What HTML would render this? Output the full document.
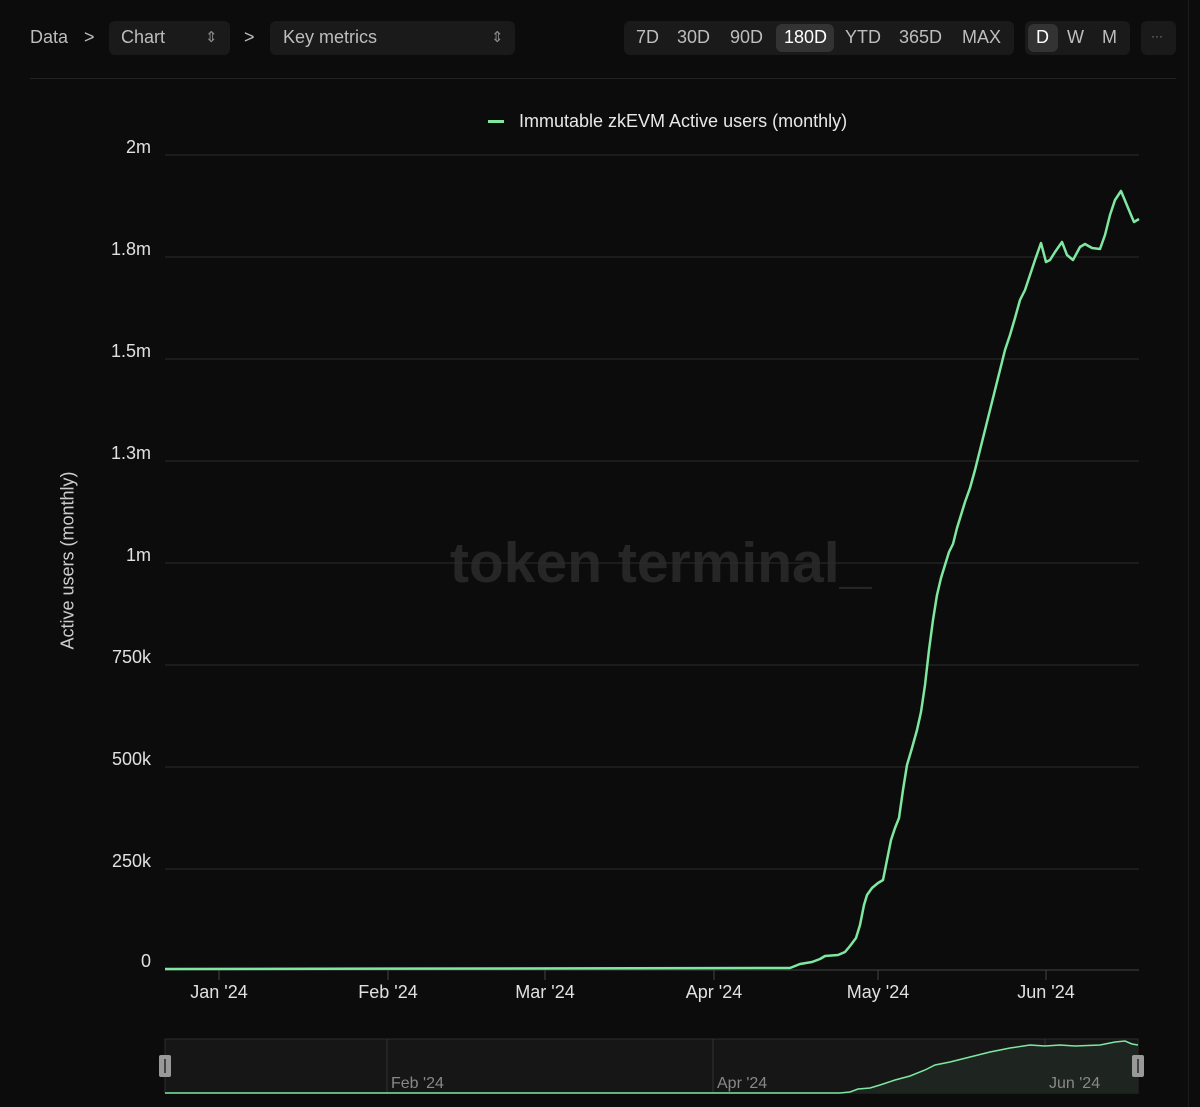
<!DOCTYPE html>
<html><head><style>
body{margin:0;background:#0c0c0d;width:1200px;height:1107px;overflow:hidden;font-family:"Liberation Sans",sans-serif;color:#ddd;position:relative}
.a{position:absolute}
.pill{background:#1a1a1b;border-radius:6px}
.t{font-size:18px;color:#bdbdbd}
</style></head><body>
<div class="a" style="left:0;top:0;width:1188px;height:1107px;border-right:1px solid #1c1c1c"></div>
<div class="a t" style="left:30px;top:27px">Data</div>
<div class="a t" style="left:84px;top:27px">&gt;</div>
<div class="a pill" style="left:109px;top:21px;width:121px;height:34px"></div>
<div class="a t" style="left:121px;top:27px">Chart</div>
<div class="a t" style="left:205px;top:28px;font-size:15px;color:#888">⇕</div>
<div class="a t" style="left:244px;top:27px">&gt;</div>
<div class="a pill" style="left:270px;top:21px;width:245px;height:34px"></div>
<div class="a t" style="left:283px;top:27px">Key metrics</div>
<div class="a t" style="left:491px;top:28px;font-size:15px;color:#888">⇕</div>
<div class="a pill" style="left:624px;top:21px;width:390px;height:34px"></div>
<div class="a pill" style="left:776px;top:24px;width:58px;height:28px;background:#333"></div>
<div class="a t" style="left:636px;top:27px">7D</div>
<div class="a t" style="left:677px;top:27px">30D</div>
<div class="a t" style="left:730px;top:27px">90D</div>
<div class="a t" style="left:784px;top:27px;color:#fff">180D</div>
<div class="a t" style="left:845px;top:27px">YTD</div>
<div class="a t" style="left:899px;top:27px">365D</div>
<div class="a t" style="left:962px;top:27px">MAX</div>
<div class="a pill" style="left:1025px;top:21px;width:105px;height:34px"></div>
<div class="a pill" style="left:1028px;top:24px;width:30px;height:28px;background:#333"></div>
<div class="a t" style="left:1036px;top:27px;color:#fff">D</div>
<div class="a t" style="left:1067px;top:27px">W</div>
<div class="a t" style="left:1102px;top:27px">M</div>
<div class="a pill" style="left:1141px;top:21px;width:35px;height:34px"></div>
<div class="a" style="left:1151px;top:29px;font-size:12px;color:#888">···</div>
<div class="a" style="left:30px;top:78px;width:1146px;height:1px;background:#222"></div>
<div class="a" style="left:488px;top:120px;width:16px;height:3px;background:#7ee8a0"></div>
<div class="a" style="left:519px;top:111px;font-size:18px;color:#e8e8e8">Immutable zkEVM Active users (monthly)</div>
<div class="a" style="left:450px;top:530px;font-size:57px;font-weight:bold;color:#262626">token terminal_</div>
<div class="a" style="left:-32px;top:550px;width:200px;text-align:center;transform:rotate(-90deg);font-size:18px;color:#ccc;white-space:nowrap">Active users (monthly)</div>
<svg class="a" style="left:0;top:0" width="1200" height="1107">
<g stroke="#2c2c2c" stroke-width="1">
<line x1="165" x2="1139" y1="155" y2="155"/><line x1="165" x2="1139" y1="257" y2="257"/><line x1="165" x2="1139" y1="359" y2="359"/><line x1="165" x2="1139" y1="461" y2="461"/><line x1="165" x2="1139" y1="563" y2="563"/><line x1="165" x2="1139" y1="665" y2="665"/><line x1="165" x2="1139" y1="767" y2="767"/><line x1="165" x2="1139" y1="869" y2="869"/>
</g>
<line x1="165" x2="1139" y1="970" y2="970" stroke="#444"/>
<g stroke="#444"><line x1="219" x2="219" y1="970" y2="980"/><line x1="388" x2="388" y1="970" y2="980"/><line x1="545" x2="545" y1="970" y2="980"/><line x1="714" x2="714" y1="970" y2="980"/><line x1="878" x2="878" y1="970" y2="980"/><line x1="1046" x2="1046" y1="970" y2="980"/></g>
<g font-size="18" fill="#e0e0e0" text-anchor="end" font-family="Liberation Sans">
<text x="151" y="153">2m</text><text x="151" y="255">1.8m</text><text x="151" y="357">1.5m</text><text x="151" y="459">1.3m</text><text x="151" y="561">1m</text><text x="151" y="663">750k</text><text x="151" y="765">500k</text><text x="151" y="867">250k</text><text x="151" y="967">0</text>
</g>
<g font-size="18" fill="#e0e0e0" text-anchor="middle" font-family="Liberation Sans">
<text x="219" y="998">Jan '24</text><text x="388" y="998">Feb '24</text><text x="545" y="998">Mar '24</text><text x="714" y="998">Apr '24</text><text x="878" y="998">May '24</text><text x="1046" y="998">Jun '24</text>
</g>
<polyline fill="none" stroke="#7ee8a0" stroke-width="2.5" stroke-linejoin="round" points="165,969 785,968 790,968 800,964 812,962 820,959 825,956 838,955 845,952 850,946 856,938 860,925 864,905 867,895 872,888 878,883 883,880 887,860 891,840 895,828 899,818 903,790 907,765 912,748 917,730 921,712 925,685 929,650 933,620 937,595 941,578 945,565 949,552 953,544 957,528 961,515 965,502 970,488 975,470 980,450 985,430 990,410 995,390 1000,370 1005,350 1010,335 1015,318 1020,300 1025,290 1030,275 1035,260 1041,243 1046,262 1050,260 1055,252 1062,242 1067,255 1073,260 1080,247 1085,244 1092,248 1100,249 1105,235 1110,215 1115,200 1121,191 1126,203 1131,215 1134,222 1139,219"/>
<rect x="165" y="1039" width="973" height="54" fill="#161616" stroke="#2c2c2c"/>
<g stroke="#333"><line x1="387" x2="387" y1="1039" y2="1093"/><line x1="713" x2="713" y1="1039" y2="1093"/><line x1="1045" x2="1045" y1="1039" y2="1093"/></g>
<path d="M165,1093 L840,1093 L850,1092 L858,1089 L870,1088 L880,1085 L895,1080 L910,1076 L925,1070 L935,1065 L950,1062 L970,1057 L990,1052 L1010,1048 L1030,1045 L1045,1046 L1060,1045 L1075,1046 L1100,1045 L1115,1042 L1125,1041 L1132,1044 L1138,1045 L1138,1093 Z" fill="#1e2520"/>
<polyline fill="none" stroke="#7ee8a0" stroke-width="1.5" points="165,1093 840,1093 850,1092 858,1089 870,1088 880,1085 895,1080 910,1076 925,1070 935,1065 950,1062 970,1057 990,1052 1010,1048 1030,1045 1045,1046 1060,1045 1075,1046 1100,1045 1115,1042 1125,1041 1132,1044 1138,1045"/>
<g font-size="16" fill="#888" font-family="Liberation Sans"><text x="391" y="1088">Feb '24</text><text x="717" y="1088">Apr '24</text><text x="1049" y="1088">Jun '24</text></g>
<rect x="159" y="1055" width="12" height="22" rx="2" fill="#999"/><rect x="164" y="1059" width="2" height="14" fill="#444"/>
<rect x="1132" y="1055" width="12" height="22" rx="2" fill="#999"/><rect x="1137" y="1059" width="2" height="14" fill="#444"/>
</svg>
</body></html>
